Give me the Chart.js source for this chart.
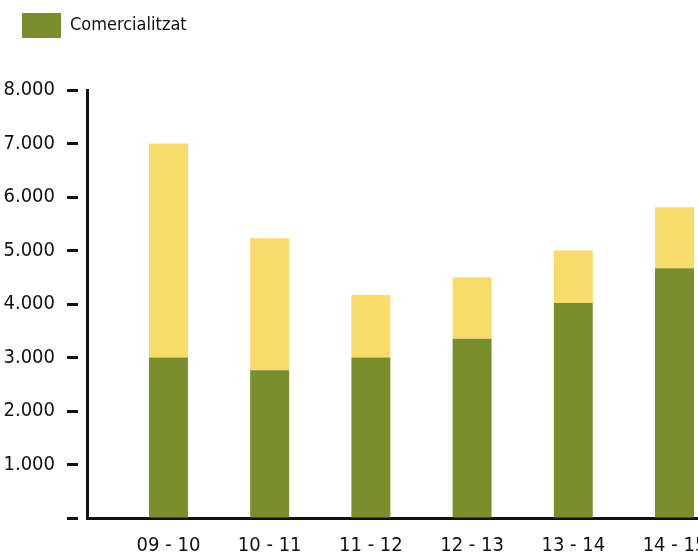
<!DOCTYPE html>
<html>
<head>
<meta charset="utf-8">
<script src="https://cdn.jsdelivr.net/npm/chart.js@4"></script>
<style>
  html, body { margin: 0; padding: 0; background: #fff; }
  #wrap { width: 698px; height: 552px; }
</style>
</head>
<body>
<div id="wrap"><canvas id="salesChart" width="698" height="552"></canvas></div>
<script>
const seasons = ["09 - 10", "10 - 11", "11 - 12", "12 - 13", "13 - 14", "14 - 15"];
const soldValues = [3000, 2760, 3000, 3350, 4020, 4670];
const restValues = [4000, 2470, 1170, 1150, 980, 1140];
const yTickLabels = ["", "1.000", "2.000", "3.000", "4.000", "5.000", "6.000", "7.000", "8.000"];

const FONT = "'DejaVu Sans Condensed', 'DejaVu Sans', sans-serif";

// push the plot down below the legend
const legendGap = {
  id: "legendGap",
  beforeInit(chart) {
    const fit = chart.legend.fit;
    chart.legend.fit = function () {
      fit.bind(chart.legend)();
      this.height += 42;
    };
  }
};

const ctx = document.getElementById("salesChart");

new Chart(ctx, {
  type: "bar",
  data: {
    datasets: [
      {
        label: "Comercialitzat",
        data: soldValues.map((v, i) => ({ x: i, y: v })),
        backgroundColor: "#7b8e2c",
        borderWidth: 0
      },
      {
        label: "",
        data: restValues.map((v, i) => ({ x: i, y: v })),
        backgroundColor: "#f7dc6a",
        borderWidth: 0
      }
    ]
  },
  plugins: [legendGap],
  options: {
    responsive: false,
    animation: false,
    layout: { padding: { top: -9, left: 0, right: 0, bottom: 0 } },
    datasets: {
      bar: { categoryPercentage: 1, barPercentage: 0.385 }
    },
    plugins: {
      tooltip: { enabled: false },
      legend: {
        position: "top",
        align: "start",
        labels: {
          padding: 22,
          boxWidth: 39,
          boxHeight: 25,
          color: "#111",
          font: { family: FONT, size: 18 },
          filter: item => item.datasetIndex === 0
        }
      }
    },
    scales: {
      x: {
        type: "linear",
        stacked: true,
        offset: false,
        min: -0.805,
        max: 5.232,
        grid: { display: false },
        border: { display: true, color: "#111", width: 3 },
        afterBuildTicks: axis => {
          axis.ticks = seasons.map((s, i) => ({ value: i }));
        },
        afterFit: axis => {
          axis.height = 34;
          axis.paddingLeft = 0;
          axis.paddingRight = 0;
        },
        ticks: {
          color: "#111",
          padding: 8,
          maxRotation: 0,
          autoSkip: false,
          font: { family: FONT, size: 20 },
          callback: value => seasons[value]
        }
      },
      y: {
        stacked: true,
        min: 0,
        max: 8000,
        afterFit: axis => { axis.width = 87; },
        grid: {
          display: true,
          drawOnChartArea: false,
          drawTicks: true,
          tickLength: 20,
          tickWidth: 3,
          tickColor: "#111",
          tickBorderDash: [11, 40]
        },
        border: { display: true, color: "#111", width: 3 },
        ticks: {
          stepSize: 1000,
          color: "#111",
          padding: 12,
          font: { family: FONT, size: 20 },
          callback: (value, index) => yTickLabels[index]
        }
      }
    }
  }
});
</script>
</body>
</html>
